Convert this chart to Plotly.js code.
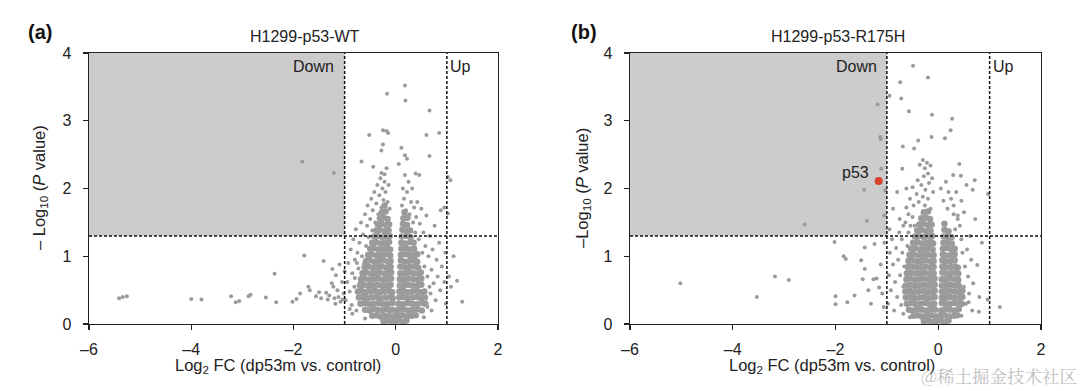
<!DOCTYPE html>
<html><head><meta charset="utf-8">
<script src="https://cdn.plot.ly/plotly-3.0.1.min.js"></script>
<style>html,body{margin:0;padding:0;background:#fff}#chart{width:1080px;height:391px}</style>
</head><body><div id="chart"></div>
<script>
// ---------- DATA ----------
const panelTitles = ["H1299-p53-WT", "H1299-p53-R175H"];
const panelLetters = ["(a)", "(b)"];
const xTicks = [-6, -4, -2, 0, 2];
const yTicks = [0, 1, 2, 3, 4];
const fcThreshold = 1;      // |Log2 FC| cut-off
const pThreshold = 1.3;     // -Log10 P cut-off
const highlightLabel = "p53";
const highlightPoint = [-1.16, 2.11]; // panel b

// Panel a: dense core of proteins
const wtCore = [
[-0.24,0.04],[-0.16,0.05],[-0.08,0.03],[-0.01,0.04],[0.06,0.05],[0.14,0.03],[0.21,0.05],
[-0.46,0.12],[-0.38,0.13],[-0.3,0.11],[-0.22,0.12],[-0.14,0.13],[-0.05,0.11],[0.04,0.12],[0.13,0.13],[0.22,0.11],[0.31,0.12],[0.39,0.13],
[-0.6,0.21],[-0.51,0.2],[-0.44,0.22],[-0.35,0.21],[-0.26,0.2],[-0.17,0.22],[-0.08,0.21],[-0.01,0.2],[0.06,0.21],[0.15,0.22],[0.24,0.2],[0.33,0.21],[0.42,0.22],[0.51,0.2],
[-0.69,0.3],[-0.61,0.31],[-0.52,0.29],[-0.43,0.3],[-0.34,0.31],[-0.25,0.29],[-0.16,0.3],[-0.07,0.31],[0.05,0.3],[0.14,0.29],[0.23,0.31],[0.32,0.3],[0.41,0.29],[0.5,0.31],[0.58,0.3],
[-0.72,0.39],[-0.65,0.4],[-0.56,0.38],[-0.47,0.39],[-0.38,0.4],[-0.29,0.38],[-0.2,0.39],[-0.11,0.4],[-0.06,0.38],[0.07,0.39],[0.14,0.4],[0.23,0.38],[0.32,0.39],[0.41,0.4],[0.5,0.38],[0.57,0.39],
[-0.74,0.48],[-0.67,0.49],[-0.58,0.47],[-0.49,0.48],[-0.4,0.49],[-0.31,0.47],[-0.22,0.48],[-0.13,0.49],[-0.07,0.47],[0.07,0.48],[0.14,0.49],[0.23,0.47],[0.32,0.48],[0.41,0.49],[0.5,0.47],[0.56,0.48],
[-0.7,0.57],[-0.63,0.58],[-0.54,0.56],[-0.45,0.57],[-0.36,0.58],[-0.27,0.56],[-0.18,0.57],[-0.1,0.58],[0.08,0.57],[0.15,0.56],[0.24,0.58],[0.33,0.57],[0.42,0.56],[0.5,0.58],
[-0.68,0.66],[-0.61,0.67],[-0.52,0.65],[-0.43,0.66],[-0.34,0.67],[-0.25,0.65],[-0.16,0.66],[-0.09,0.67],[0.08,0.66],[0.16,0.65],[0.25,0.67],[0.34,0.66],[0.43,0.65],[0.5,0.67],
[-0.65,0.75],[-0.58,0.76],[-0.49,0.74],[-0.4,0.75],[-0.31,0.76],[-0.22,0.74],[-0.14,0.75],[-0.09,0.76],[0.09,0.75],[0.17,0.74],[0.26,0.76],[0.35,0.75],[0.44,0.74],[0.49,0.76],
[-0.61,0.84],[-0.54,0.85],[-0.45,0.83],[-0.36,0.84],[-0.27,0.85],[-0.18,0.83],[-0.1,0.84],[0.09,0.85],[0.18,0.83],[0.27,0.84],[0.36,0.85],[0.44,0.83],
[-0.58,0.93],[-0.51,0.94],[-0.42,0.92],[-0.33,0.93],[-0.24,0.94],[-0.15,0.92],[-0.1,0.93],[0.1,0.94],[0.18,0.92],[0.27,0.93],[0.36,0.94],[0.42,0.92],
[-0.54,1.02],[-0.47,1.03],[-0.38,1.01],[-0.29,1.02],[-0.2,1.03],[-0.11,1.01],[0.1,1.02],[0.19,1.03],[0.28,1.01],[0.37,1.02],[0.42,1.03],
[-0.5,1.11],[-0.43,1.12],[-0.34,1.1],[-0.25,1.11],[-0.16,1.12],[-0.11,1.1],[0.11,1.11],[0.19,1.12],[0.28,1.1],[0.36,1.11],
[-0.46,1.2],[-0.39,1.21],[-0.3,1.19],[-0.21,1.2],[-0.13,1.21],[0.11,1.2],[0.2,1.19],[0.29,1.21],[0.35,1.2],
[-0.42,1.29],[-0.35,1.3],[-0.26,1.28],[-0.17,1.29],[-0.12,1.3],[0.12,1.29],[0.21,1.3],[0.29,1.28],
[-0.38,1.38],[-0.31,1.39],[-0.22,1.37],[-0.14,1.38],[0.13,1.39],[0.22,1.37],[0.28,1.38],
[-0.35,1.47],[-0.28,1.48],[-0.19,1.46],[-0.13,1.47],[0.14,1.48],[0.22,1.46],
[-0.31,1.56],[-0.24,1.57],[-0.16,1.55],[0.15,1.56],[0.23,1.57],
[-0.27,1.65],[-0.2,1.66],[0.17,1.65],
[-0.22,1.75]
];

// Panel a: scattered proteins
const wtScatter = [
[-5.41,0.38],[-5.34,0.4],[-5.26,0.41],[-4.0,0.37],[-3.8,0.36],[-3.22,0.41],[-3.13,0.32],[-3.06,0.34],
[-2.88,0.41],[-2.84,0.43],[-2.54,0.39],[-2.34,0.32],[-2.37,0.74],[-1.79,1.01],[-2.02,0.33],[-1.94,0.37],
[-1.87,0.45],[-1.71,0.55],[-1.68,0.5],[-1.56,0.41],[-1.41,0.93],[-1.46,0.38],[-1.36,0.46],[-1.24,0.81],
[-1.22,0.55],[-1.3,0.42],[-1.25,0.6],[-1.2,0.38],[-1.17,0.72],[-1.14,0.5],[-1.1,0.88],[-1.08,0.33],
[-1.05,0.62],[-1.02,0.45],[-1.0,0.78],[-1.12,0.4],[-1.33,0.36],[-1.5,0.47],[-1.18,0.3],[-1.04,0.36],
[-1.83,2.4],[-1.21,2.23],
[0.18,3.52],[-0.17,3.4],[0.19,3.3],[0.66,3.15],[0.6,2.79],[0.85,2.82],[-0.52,2.79],[-0.25,2.86],
[-0.18,2.85],[-0.15,2.82],[0.66,2.48],[0.11,2.6],[0.18,2.49],[0.22,2.44],[-0.25,2.65],[-0.28,2.56],
[-0.67,2.4],[-0.44,2.32],[0.06,2.36],[0.39,2.22],[-0.28,2.23],[-0.22,2.21],[1.02,2.17],[1.07,2.12],[0.46,2.2],
[1.02,1.63],[0.95,1.72],[0.88,1.68],[1.13,1.0],[1.2,0.64],[1.3,0.33],[1.04,0.7],[1.08,0.55],
[-0.98,0.35],[-0.95,0.62],[-0.93,0.9],[-0.9,0.48],[-0.88,1.1],[-0.86,0.28],[-0.85,0.75],[-0.83,1.25],
[-0.81,0.55],[-0.8,0.95],[-0.78,1.4],[-0.77,0.2],[-0.75,1.05],[-0.73,0.82],[-0.71,1.2],[-0.7,0.62],
[-0.68,1.5],[-0.66,1.0],[-0.64,1.32],[-0.62,0.9],[-0.6,1.62],[-0.58,1.15],[-0.56,1.45],[-0.55,1.75],
[-0.53,1.28],[-0.5,1.55],[-0.48,1.85],[-0.46,1.38],[-0.45,1.68],[-0.42,1.95],[-0.4,1.5],[-0.38,1.78],
[-0.36,2.05],[-0.34,1.62],[-0.32,1.9],[-0.3,2.15],[-0.28,1.72],[-0.26,2.0],[-0.24,1.83],[-0.22,2.1],
[-0.2,1.95],[-0.18,2.3],[-0.16,1.8],[-0.14,2.05],[-0.12,1.7],
[0.12,1.75],[0.14,2.0],[0.16,1.85],[0.18,2.2],[0.2,1.68],[0.22,1.95],[0.25,2.1],[0.27,1.62],
[0.3,1.8],[0.32,2.0],[0.34,1.5],[0.36,1.72],[0.38,1.35],[0.4,1.58],[0.42,1.8],[0.45,1.25],
[0.47,1.48],[0.5,1.7],[0.52,1.05],[0.54,1.35],[0.56,0.85],[0.58,1.15],[0.6,1.6],[0.62,0.7],
[0.64,1.0],[0.66,1.3],[0.68,0.45],[0.7,0.8],[0.72,1.1],[0.74,0.6],[0.76,1.45],[0.78,0.35],
[0.8,0.95],[0.82,0.7],[0.85,1.2],[0.87,0.5],[0.9,0.85],[0.95,0.62],[0.97,1.05],[0.98,0.3],
[-0.85,0.15],[-0.6,0.08],[0.55,0.1],[0.7,0.2],[-0.9,0.22],[0.62,0.25],[0.66,0.55],[-0.8,0.68],[-0.76,0.9]
];

// Panel b: dense core of proteins
const mtCore = [
[-0.28,0.04],[-0.2,0.05],[-0.12,0.03],[-0.04,0.04],[0.05,0.05],[0.13,0.03],[0.2,0.05],
[-0.48,0.12],[-0.4,0.13],[-0.32,0.11],[-0.23,0.12],[-0.14,0.13],[-0.05,0.11],[0.04,0.12],[0.13,0.13],[0.22,0.11],[0.31,0.12],[0.37,0.13],
[-0.57,0.21],[-0.49,0.2],[-0.4,0.22],[-0.31,0.21],[-0.22,0.2],[-0.13,0.22],[-0.06,0.21],[0.06,0.2],[0.14,0.22],[0.23,0.21],[0.32,0.2],[0.4,0.22],
[-0.61,0.3],[-0.53,0.31],[-0.44,0.29],[-0.35,0.3],[-0.26,0.31],[-0.17,0.29],[-0.08,0.3],[0.07,0.31],[0.14,0.29],[0.23,0.3],[0.32,0.31],[0.41,0.29],[0.46,0.3],
[-0.63,0.39],[-0.55,0.4],[-0.46,0.38],[-0.37,0.39],[-0.28,0.4],[-0.19,0.38],[-0.11,0.39],[-0.07,0.4],[0.07,0.39],[0.14,0.38],[0.23,0.4],[0.32,0.39],[0.41,0.38],[0.47,0.4],
[-0.64,0.48],[-0.56,0.49],[-0.47,0.47],[-0.38,0.48],[-0.29,0.49],[-0.2,0.47],[-0.12,0.48],[-0.07,0.49],[0.07,0.48],[0.14,0.47],[0.23,0.49],[0.32,0.48],[0.41,0.47],[0.47,0.49],
[-0.63,0.57],[-0.55,0.58],[-0.46,0.56],[-0.37,0.57],[-0.28,0.58],[-0.19,0.56],[-0.11,0.57],[-0.07,0.58],[0.07,0.57],[0.14,0.56],[0.23,0.58],[0.32,0.57],[0.4,0.56],
[-0.62,0.66],[-0.54,0.67],[-0.45,0.65],[-0.36,0.66],[-0.27,0.67],[-0.18,0.65],[-0.11,0.66],[-0.07,0.67],[0.07,0.66],[0.14,0.65],[0.23,0.67],[0.32,0.66],[0.39,0.65],
[-0.61,0.75],[-0.53,0.76],[-0.44,0.74],[-0.35,0.75],[-0.26,0.76],[-0.17,0.74],[-0.09,0.75],[0.08,0.76],[0.15,0.74],[0.24,0.75],[0.33,0.76],[0.39,0.74],
[-0.59,0.84],[-0.51,0.85],[-0.42,0.83],[-0.33,0.84],[-0.24,0.85],[-0.15,0.83],[-0.09,0.84],[0.08,0.85],[0.15,0.83],[0.24,0.84],[0.33,0.85],[0.38,0.83],
[-0.58,0.93],[-0.5,0.94],[-0.41,0.92],[-0.32,0.93],[-0.23,0.94],[-0.14,0.92],[-0.09,0.93],[0.08,0.94],[0.15,0.92],[0.24,0.93],[0.32,0.94],
[-0.56,1.02],[-0.48,1.03],[-0.39,1.01],[-0.3,1.02],[-0.21,1.03],[-0.12,1.01],[-0.09,1.02],[0.09,1.03],[0.16,1.01],[0.25,1.02],[0.32,1.03],
[-0.53,1.11],[-0.45,1.12],[-0.36,1.1],[-0.27,1.11],[-0.18,1.12],[-0.11,1.1],[0.09,1.11],[0.17,1.12],[0.26,1.1],[0.32,1.11],
[-0.49,1.2],[-0.41,1.21],[-0.32,1.19],[-0.23,1.2],[-0.14,1.21],[-0.1,1.19],[0.1,1.2],[0.18,1.21],[0.26,1.19],
[-0.45,1.29],[-0.37,1.3],[-0.28,1.28],[-0.19,1.29],[-0.12,1.3],[0.11,1.29],[0.19,1.3],[0.26,1.28],
[-0.41,1.38],[-0.33,1.39],[-0.24,1.37],[-0.15,1.38],[0.12,1.39],[0.2,1.37],
[-0.37,1.47],[-0.29,1.48],[-0.2,1.46],[-0.13,1.47],[0.12,1.48],
[-0.33,1.56],[-0.24,1.57],[-0.16,1.55],
[-0.28,1.65],[-0.2,1.66]
];

// Panel b: scattered proteins
const mtScatter = [
[-5.02,0.6],[-3.53,0.4],[-3.18,0.7],[-2.91,0.65],[-2.6,1.47],[-2.02,1.21],[-2.0,0.41],[-2.0,0.29],
[-1.84,1.0],[-1.8,0.96],[-1.77,0.32],[-1.63,0.42],[-1.5,0.94],[-1.47,0.66],[-1.43,1.13],[-1.43,0.81],
[-1.36,0.5],[-1.31,0.3],[-1.26,0.66],[-1.24,1.18],[-1.2,0.67],[-1.15,0.54],[-1.09,0.45],[-1.12,0.88],
[-1.05,1.2],[-1.06,0.25],
[-1.44,1.98],[-1.39,1.52],[-1.18,3.24],[-1.13,2.76],[-1.12,2.73],[-1.11,2.29],[-1.03,1.97],[-1.05,1.6],
[-0.49,3.81],[-0.2,3.64],[-0.74,3.57],[-0.95,3.37],[-0.72,3.33],[-0.57,3.14],[-0.12,3.09],[0.27,3.03],
[0.24,2.86],[-0.39,2.71],[-0.13,2.76],[0.13,2.74],[-0.69,2.62],[-0.47,2.59],[-0.7,2.29],[-0.62,2.0],
[-0.3,2.42],[-0.22,2.38],[-0.36,2.35],[-0.26,2.3],[-0.15,2.34],[0.41,2.36],[0.29,2.2],[0.44,2.19],
[0.71,2.12],[0.67,1.98],[0.97,1.92],[-0.2,2.22],[-0.28,2.18],[-0.12,2.15],[-0.4,2.12],[-0.33,2.05],
[-0.18,2.08],[-0.5,2.02],[-0.25,1.98],[-0.1,1.95],[-0.42,1.92],[-0.3,1.88],[-0.55,1.85],[-0.2,1.85],
[-0.38,1.8],[-0.48,1.75],[-0.26,1.75],[-0.62,1.72],[-0.15,1.7],[0.05,2.0],[0.15,2.1],[0.2,1.95],
[0.25,1.85],[0.1,1.82],[0.3,1.75],[0.18,1.7],[0.35,1.95],[0.45,1.82],[0.5,1.65],[0.55,2.05],
[0.38,1.6],[-0.75,1.55],[-0.8,1.95],[-0.68,1.45],[-0.88,1.7],[-0.95,1.4],[-0.58,1.62],
[-0.98,0.3],[-0.96,0.72],[-0.94,1.05],[-0.92,0.5],[-0.9,1.25],[-0.88,0.88],[-0.86,0.2],[-0.84,0.62],
[-0.82,1.12],[-0.8,0.4],[-0.78,0.95],[-0.76,1.35],[-0.74,0.72],[-0.72,0.28],[-0.7,1.05],[-0.68,0.55],
[-0.71,1.25],[-0.66,0.85],[-0.64,1.5],[-0.6,1.15],[-0.58,1.35],[-0.54,1.45],[-0.5,1.58],[-0.46,1.45],
[0.5,0.55],[0.52,0.85],[0.54,0.3],[0.56,1.1],[0.58,0.7],[0.6,0.45],[0.62,1.3],[0.64,0.95],
[0.66,0.2],[0.68,0.6],[0.72,1.55],[0.76,0.87],[0.8,0.4],[0.85,1.2],[0.96,0.36],[0.79,0.18],
[0.59,0.32],[1.2,0.25],[0.45,1.25],[0.42,1.45],[0.38,1.55],[0.47,1.05],[0.33,1.4],[0.3,1.62],
[-0.55,0.1],[0.45,0.12],[-0.68,0.15]
];

// ---------- STYLE / LAYOUT ----------
const W = 1080, H = 391;
const FONT = '"Liberation Sans", Arial, Helvetica, sans-serif';
const DOT = '#9b9b9b';
const px = v => v / W, py = v => (H - v) / H;
const panels = [
  {x0: 89, x1: 498, core: wtCore, scat: wtScatter, xa: 'x', ya: 'y', titleX: 305, letterX: 40, ytitleX: 40, xtitleX: 278, ylab: '\u2013 Log<sub>10</sub> (<i>P</i> value)'},
  {x0: 630, x1: 1041, core: mtCore, scat: mtScatter, xa: 'x2', ya: 'y2', titleX: 838, letterX: 584, ytitleX: 583, xtitleX: 832, ylab: '\u2013Log<sub>10</sub> (<i>P</i> value)'}
];
const yTop = 53, yBot = 324;

const traces = [];
panels.forEach(p => {
  traces.push({type: 'scatter', mode: 'markers', xaxis: p.xa, yaxis: p.ya,
    x: p.core.map(d => d[0]), y: p.core.map(d => d[1]),
    marker: {color: DOT, size: 6.5}, hoverinfo: 'skip', showlegend: false});
  traces.push({type: 'scatter', mode: 'markers', xaxis: p.xa, yaxis: p.ya,
    x: p.scat.map(d => d[0]), y: p.scat.map(d => d[1]),
    marker: {color: DOT, size: 4}, hoverinfo: 'skip', showlegend: false});
});
traces.push({type: 'scatter', mode: 'markers', xaxis: 'x2', yaxis: 'y2',
  x: [highlightPoint[0]], y: [highlightPoint[1]],
  marker: {color: '#d9412f', size: 8}, hoverinfo: 'skip', showlegend: false});

function axisX(p) {
  return {domain: [px(p.x0), px(p.x1)], range: [-6, 2], tickvals: xTicks, ticktext: xTicks.map(v => v < 0 ? '\u2013' + Math.abs(v) : String(v)),
    showgrid: false, zeroline: false, showline: true, mirror: true, linecolor: '#222', linewidth: 1.3,
    ticks: 'outside', ticklen: 5, tickwidth: 1.3, tickcolor: '#222', ticklabelstandoff: 5,
    tickfont: {family: FONT, size: 16, color: '#222'}, anchor: p.ya, fixedrange: true};
}
function axisY(p) {
  return {domain: [py(yBot), py(yTop)], range: [0, 4], tickvals: yTicks,
    showgrid: false, zeroline: false, showline: true, mirror: true, linecolor: '#222', linewidth: 1.3,
    ticks: 'outside', ticklen: 5, tickwidth: 1.3, tickcolor: '#222', ticklabelstandoff: 8,
    tickfont: {family: FONT, size: 16, color: '#222'}, anchor: p.xa, fixedrange: true};
}

const shapes = [], annotations = [];
panels.forEach((p, i) => {
  const xr = p.xa, yr = p.ya;
  shapes.push({type: 'rect', xref: xr, yref: yr, x0: -6, x1: -fcThreshold, y0: pThreshold, y1: 4,
    fillcolor: '#cccccc', line: {width: 0}, layer: 'below'});
  const dl = {color: '#111', width: 1.5, dash: '3px,2px'};
  shapes.push({type: 'line', xref: xr, yref: yr, x0: -fcThreshold, x1: -fcThreshold, y0: 0, y1: 4, line: dl});
  shapes.push({type: 'line', xref: xr, yref: yr, x0: fcThreshold, x1: fcThreshold, y0: 0, y1: 4, line: dl});
  shapes.push({type: 'line', xref: xr, yref: yr, x0: -6, x1: 2, y0: pThreshold, y1: pThreshold, line: dl});

  annotations.push({xref: 'paper', yref: 'paper', x: px(p.titleX), y: py(37), text: panelTitles[i], showarrow: false,
    xanchor: 'center', yanchor: 'middle', font: {family: FONT, size: 16, color: '#222'}});
  annotations.push({xref: 'paper', yref: 'paper', x: px(p.letterX), y: py(32), text: '<b>' + panelLetters[i] + '</b>', showarrow: false,
    xanchor: 'center', yanchor: 'middle', font: {family: FONT, size: 20, color: '#111'}});
  annotations.push({xref: 'paper', yref: 'paper', x: px(p.xtitleX), y: py(366), text: 'Log<sub>2</sub> FC (dp53m vs. control)', showarrow: false,
    xanchor: 'center', yanchor: 'middle', font: {family: FONT, size: 16.5, color: '#222'}});
  annotations.push({xref: 'paper', yref: 'paper', x: px(p.ytitleX), y: py(188), text: p.ylab, showarrow: false, textangle: -90,
    xanchor: 'center', yanchor: 'middle', font: {family: FONT, size: 16.5, color: '#222'}});
  annotations.push({xref: xr, yref: yr, x: -1.6, y: 3.8, text: 'Down', showarrow: false,
    xanchor: 'center', yanchor: 'middle', font: {family: FONT, size: 16, color: '#222'}});
  annotations.push({xref: xr, yref: yr, x: 1.27, y: 3.8, text: 'Up', showarrow: false,
    xanchor: 'center', yanchor: 'middle', font: {family: FONT, size: 16, color: '#222'}});
});
annotations.push({xref: 'x2', yref: 'y2', x: highlightPoint[0] - 0.15, y: highlightPoint[1] + 0.12, text: highlightLabel, showarrow: false,
  xanchor: 'right', yanchor: 'middle', font: {family: FONT, size: 16, color: '#222'}});
annotations.push({xref: 'paper', yref: 'paper', x: px(1079), y: py(375), text: '@稀土掘金技术社区', showarrow: false,
  xanchor: 'right', yanchor: 'middle', font: {family: '"Noto Serif CJK SC", "Noto Sans CJK SC", serif', size: 17.5, color: '#bdbdbd'}});

const layout = {
  width: W, height: H, margin: {l: 0, r: 0, t: 0, b: 0},
  paper_bgcolor: '#fff', plot_bgcolor: 'rgba(0,0,0,0)', showlegend: false,
  xaxis: axisX(panels[0]), yaxis: axisY(panels[0]),
  xaxis2: axisX(panels[1]), yaxis2: axisY(panels[1]),
  shapes, annotations, font: {family: FONT}
};
Plotly.newPlot('chart', traces, layout, {staticPlot: true, displayModeBar: false});
</script></body></html>
